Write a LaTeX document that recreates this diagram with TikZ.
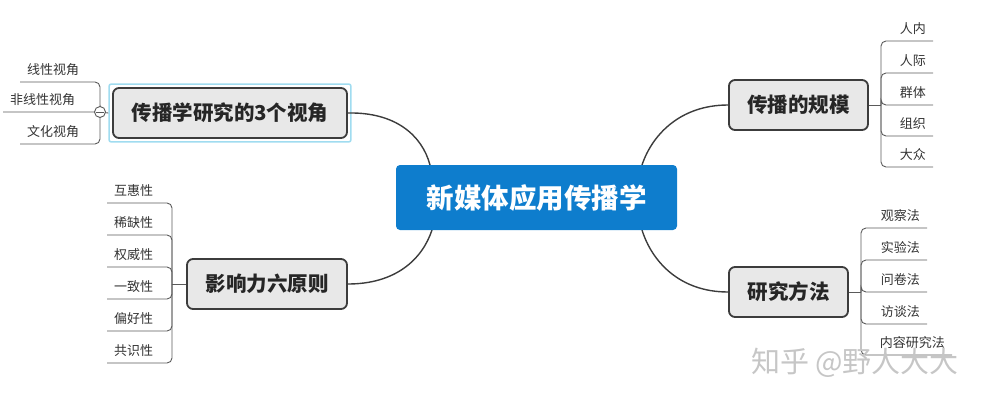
\documentclass[tikz,border=0pt]{standalone}
\usepackage{fontspec}
\setmainfont{Noto Sans CJK SC}
\usetikzlibrary{positioning, fit}
\definecolor{coreblue}{RGB}{14,125,205}
\definecolor{topicgray}{RGB}{232,232,232}
\definecolor{edgegray}{RGB}{60,60,60}
\definecolor{leafgray}{RGB}{90,90,90}
\definecolor{selcyan}{RGB}{160,220,240}

\begin{document}
\begin{tikzpicture}[
        x=1pt, y=-1pt,
        core/.style={rectangle, fill=coreblue, text=white, rounded
          corners=4pt, minimum width=281pt, minimum height=65pt,
        font=\fontsize{27.5}{30}\selectfont\bfseries},
        topic/.style={rectangle, draw=edgegray, fill=topicgray, line
          width=1.8pt, rounded corners=6pt, minimum height=50pt, inner
        xsep=0pt, text=black!85, font=\fontsize{20.5}{23}\selectfont\bfseries},
        selbox/.style={rectangle, draw=selcyan, line width=1.5pt, rounded
        corners=2pt, inner sep=3pt},
        leaf/.style={inner xsep=7pt, inner ysep=6.5pt, text=black!80,
        font=\fontsize{13}{15}\selectfont},
        fold/.style={circle, draw=leafgray, fill=white, line width=0.9pt,
        minimum size=11pt, inner sep=0pt},
        stamp/.style={text=gray!45, font=\fontsize{29}{31}\selectfont},
        branch/.style={draw=edgegray, line width=1.4pt},
        twig/.style={draw=leafgray, line width=0.9pt, rounded corners=5pt}
      ]
      \useasboundingbox (0,0) rectangle (984,404);

      % main branches
      \node [topic, minimum width=234pt] (view) at (230,113)
      {传播学研究的3个视角};
      \node [selbox, fit=(view)] (view_sel) {};
      \node [topic, minimum width=160pt] (principle) at (267,284)
      {影响力六原则};
      \node [topic, minimum width=139pt] (scale) at (798.5,105)
      {传播的规模};
      \node [topic, minimum width=119pt] (method) at (788.5,292)
      {研究方法};

      \coordinate (core_nw) at (430,165);
      \coordinate (core_sw) at (432,230);
      \coordinate (core_ne) at (642,165);
      \coordinate (core_se) at (642,230);

      \path [branch] (view.east) .. controls (395,112) and (422,135) .. (core_nw);
      \path [branch] (principle.east) .. controls (395,284) and (422,260) .. (core_sw);
      \path [branch] (scale.west) .. controls (680,105) and (652,135) .. (core_ne);
      \path [branch] (method.west) .. controls (680,292) and (652,262) .. (core_se);

      \node [core] (core) at (536.5,197.5) {新媒体应用传播学};

      % 3 viewpoints
      \coordinate (view_hub) at (100,112);
      \node [leaf, anchor=south west] (v_linear) at (20,82) {线性视角};
      \node [leaf, anchor=south west] (v_nonlinear) at (3,112) {非线性视角};
      \node [leaf, anchor=south west] (v_culture) at (20,144) {文化视角};
      \path [twig] (view_hub) |- (v_linear.south west);
      \path [twig] (view_hub) |- (v_nonlinear.south west);
      \path [twig] (view_hub) |- (v_culture.south west);
      \path [twig] (view_hub) -- (view_sel.west);
      \node [fold] (view_fold) at (view_hub) {};
      \path [twig] ([xshift=2pt]view_fold.west) -- ([xshift=-2pt]view_fold.east);

      % six principles
      \coordinate (principle_hub) at (172,284);
      \node [leaf, anchor=south west] (p_reci) at (107,203) {互惠性};
      \node [leaf, anchor=south west] (p_scarce) at (107,235) {稀缺性};
      \node [leaf, anchor=south west] (p_auth) at (107,267) {权威性};
      \node [leaf, anchor=south west] (p_consist) at (107,299) {一致性};
      \node [leaf, anchor=south west] (p_like) at (107,331) {偏好性};
      \node [leaf, anchor=south west] (p_consens) at (107,363) {共识性};
      \path [twig] (principle_hub) |- (p_reci.south west);
      \path [twig] (principle_hub) |- (p_scarce.south west);
      \path [twig] (principle_hub) |- (p_auth.south west);
      \path [twig] (principle_hub) |- (p_consist.south west);
      \path [twig] (principle_hub) |- (p_like.south west);
      \path [twig] (principle_hub) |- (p_consens.south west);
      \path [twig] (principle_hub) -- (principle.west);

      % scale of communication
      \coordinate (scale_hub) at (881,105);
      \node [leaf, anchor=south east] (s_intra) at (933,41) {人内};
      \node [leaf, anchor=south east] (s_inter) at (933,73) {人际};
      \node [leaf, anchor=south east] (s_group) at (933,105) {群体};
      \node [leaf, anchor=south east] (s_org) at (933,136) {组织};
      \node [leaf, anchor=south east] (s_mass) at (933,167) {大众};
      \path [twig] (scale_hub) |- (s_intra.south east);
      \path [twig] (scale_hub) |- (s_inter.south east);
      \path [twig] (scale_hub) |- (s_group.south east);
      \path [twig] (scale_hub) |- (s_org.south east);
      \path [twig] (scale_hub) |- (s_mass.south east);
      \path [twig] (scale.east) -- (scale_hub);

      % research methods
      \coordinate (method_hub) at (861,292);
      \node [leaf, anchor=south east] (m_observe) at (927,228) {观察法};
      \node [leaf, anchor=south east] (m_experi) at (927,260) {实验法};
      \node [leaf, anchor=south east] (m_survey) at (927,292) {问卷法};
      \node [leaf, anchor=south east] (m_interv) at (927,324) {访谈法};
      \node [leaf, anchor=south east] (m_content) at (952,355) {内容研究法};
      \path [twig] (method_hub) |- (m_observe.south east);
      \path [twig] (method_hub) |- (m_experi.south east);
      \path [twig] (method_hub) |- (m_survey.south east);
      \path [twig] (method_hub) |- (m_interv.south east);
      \path [twig] (method_hub) |- (m_content.south east);
      \path [twig] (method.east) -- (method_hub);

      \node [stamp] (stamp) at (855,363) {知乎 @野人大大};

    \end{tikzpicture}
\end{document}
